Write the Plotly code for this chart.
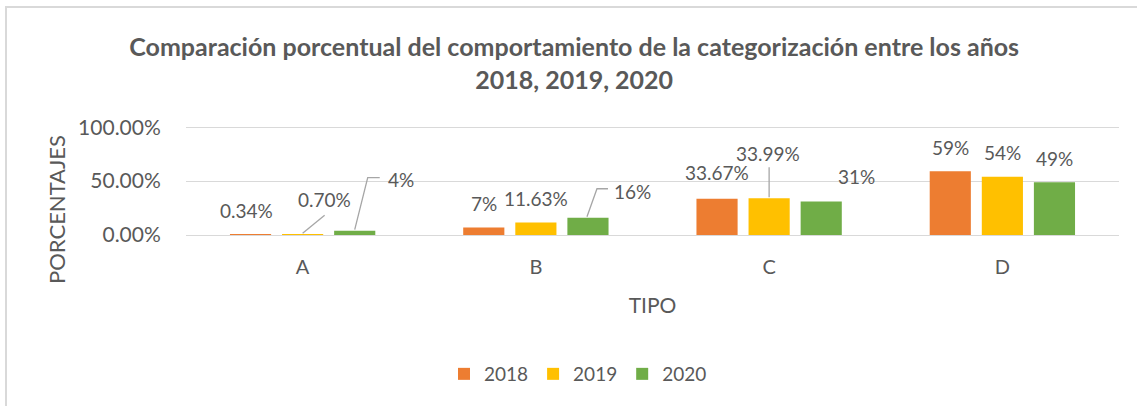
import plotly.graph_objects as go

# ---- data ----
categories = ["A", "B", "C", "D"]
years = ["2018", "2019", "2020"]
values_2018 = [0.0034, 0.07, 0.3367, 0.59]
values_2019 = [0.0070, 0.1163, 0.3399, 0.54]
values_2020 = [0.04, 0.16, 0.31, 0.49]
labels_2018 = ["0.34%", "7%", "33.67%", "59%"]
labels_2019 = ["0.70%", "11.63%", "33.99%", "54%"]
labels_2020 = ["4%", "16%", "31%", "49%"]
y_ticks = [0, 0.5, 1.0]

# ---- style ----
colors = ["#ED7D31", "#FFC000", "#70AD47"]
FONT = "Lato"
GRAY = "#595959"
W, H = 1137, 406
ML, MR, MT, MB = 186, 18, 125, 171
Y_MAX = 1.02
bargap, bargroupgap = 0.33, 0.21
slot = (1 - bargap) / 3

# label offsets (pixels, x right / y up) relative to bar top centre
label_off = [
    [(-4, 24), (0, 24), (0, 26), (0, 24)],
    [(22, 35), (0, 24), (-1, 45), (0, 24)],
    [(46, 51), (45, 26), (35, 25), (0, 24)],
]
# leader lines: (series, category, pixel path)
leaders = [
    (1, 0, "M22,19 L0,1"),
    (2, 0, "M25,53 L13,53 L0,1"),
    (2, 1, "M20,29 L9,29 L-1,1"),
    (1, 2, "M0,31 L0,1"),
]

series = [values_2018, values_2019, values_2020]
labels = [labels_2018, labels_2019, labels_2020]

fig = go.Figure()
for j, (yr, vals) in enumerate(zip(years, series)):
    fig.add_trace(go.Bar(
        name=yr, x=categories, y=vals,
        marker=dict(color=colors[j], line=dict(width=0)),
    ))

pw, ph = W - ML - MR, H - MT - MB

annotations = []
for j in range(3):
    for i in range(4):
        dx, dy = label_off[j][i]
        annotations.append(dict(
            x=i + (j - 1) * slot, y=series[j][i], xref="x", yref="y",
            text=labels[j][i], showarrow=False, xanchor="center", yanchor="middle",
            xshift=dx, yshift=dy, font=dict(family=FONT, size=19, color=GRAY),
        ))
# y-axis title (Excel places it centred on the whole chart height)
annotations.append(dict(
    text="PORCENTAJES", textangle=-90, showarrow=False,
    xref="paper", yref="paper",
    x=(56 - ML) / pw, y=(H - MB - 210) / ph, xanchor="center", yanchor="middle",
    font=dict(family=FONT, size=22, color=GRAY),
))

shapes = []
for j, i, path in leaders:
    shapes.append(dict(
        type="path", xref="x", yref="y",
        xsizemode="pixel", ysizemode="pixel",
        xanchor=i + (j - 1) * slot, yanchor=series[j][i],
        path=path, line=dict(color="#A6A6A6", width=1.3),
    ))

# outer chart border (left and top edges)
bx = (6 - ML) / pw
by = (H - MB - 7) / ph
shapes.append(dict(
    type="path", xref="paper", yref="paper",
    path=f"M{bx},{-MB/ph - 0.1} L{bx},{by} L{(W - ML)/pw + 0.1},{by}",
    line=dict(color="#D9D9D9", width=2),
))

fig.update_layout(
    width=W, height=H,
    margin=dict(l=ML, r=MR, t=MT, b=MB),
    paper_bgcolor="white", plot_bgcolor="white",
    barmode="group", bargap=bargap, bargroupgap=bargroupgap,
    title=dict(
        text="<b>Comparación porcentual del comportamiento de la categorización entre los años<br>2018, 2019, 2020</b>",
        x=0.505, xref="container", xanchor="center",
        y=1 - 56 / H, yref="container", yanchor="middle",
        font=dict(family=FONT, size=25, color=GRAY),
    ),
    font=dict(family=FONT, color=GRAY),
    xaxis=dict(
        showgrid=False, showline=False, zeroline=False,
        ticks="outside", ticklen=14, tickcolor="rgba(0,0,0,0)",
        tickfont=dict(family=FONT, size=20, color=GRAY),
        title=dict(text="TIPO", font=dict(family=FONT, size=21, color=GRAY), standoff=21),
    ),
    yaxis=dict(
        range=[0, Y_MAX], tickvals=y_ticks, tickformat=".2%",
        showgrid=True, gridcolor="#D9D9D9", gridwidth=1,
        zeroline=True, zerolinecolor="#D9D9D9", zerolinewidth=1,
        showline=False,
        ticks="outside", ticklen=20, tickcolor="rgba(0,0,0,0)",
        tickfont=dict(family=FONT, size=21, color=GRAY),
    ),
    legend=dict(
        orientation="h", x=(578 - ML) / pw, xanchor="center",
        y=(H - MB - 374) / ph, yanchor="middle",
        font=dict(family=FONT, size=19, color=GRAY),
        itemwidth=30,
    ),
    annotations=annotations,
    shapes=shapes,
)

fig.write_html("out.html", config={"displayModeBar": False},
               post_script="document.body.style.margin='0';")
